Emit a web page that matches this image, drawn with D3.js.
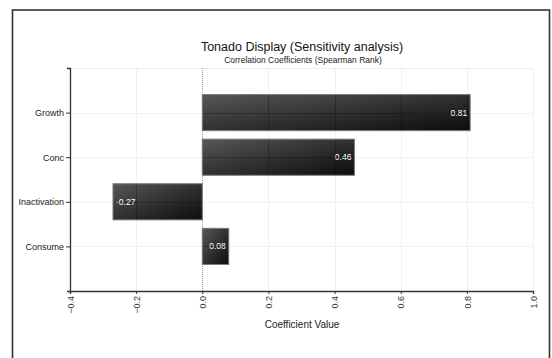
<!DOCTYPE html>
<html>
<head>
<meta charset="utf-8">
<script src="https://cdn.jsdelivr.net/npm/d3@7"></script>
<style>
  html, body { margin: 0; padding: 0; background: #fff; }
  svg { display: block; }
  text { font-family: "Liberation Sans", Arial, sans-serif; }
</style>
</head>
<body>
<svg id="chart" width="552" height="358"></svg>
<script>
const categories = ["Growth", "Conc", "Inactivation", "Consume"];
const values = [0.81, 0.46, -0.27, 0.08];
const valueLabels = ["0.81", "0.46", "-0.27", "0.08"];
const xTicks = [-0.4, -0.2, 0.0, 0.2, 0.4, 0.6, 0.8, 1.0];
const titleText = "Tonado Display (Sensitivity analysis)";
const subtitleText = "Correlation Coefficients (Spearman Rank)";
const xAxisTitle = "Coefficient Value";

const svg = d3.select("#chart");
const plot = { left: 70, right: 533, top: 68, bottom: 291 };

// outer frame
svg.append("rect")
  .attr("x", 12.5).attr("y", 10).attr("width", 537).attr("height", 360)
  .attr("fill", "none").attr("stroke", "#333").attr("stroke-width", 1.6);

const x = d3.scaleLinear().domain([-0.4, 1.0]).range([plot.left, plot.right]);
const y = d3.scaleLinear().domain([0, categories.length + 1]).range([plot.top, plot.bottom]);
const band = y(1) - y(0);
const barH = band * 0.81;

const defs = svg.append("defs");
const grad = defs.append("linearGradient").attr("id", "barGrad")
  .attr("x1", "0").attr("y1", "0").attr("x2", "1").attr("y2", "1");
grad.append("stop").attr("offset", "0%").attr("stop-color", "#575757");
grad.append("stop").attr("offset", "100%").attr("stop-color", "#0c0c0c");

const gridX = xTicks.filter(d => d !== 0 && d !== -0.4);

// light grid (under bars)
const grid = svg.append("g");
grid.selectAll("line.v").data(gridX).join("line")
  .attr("x1", d => Math.round(x(d)) + 0.5).attr("x2", d => Math.round(x(d)) + 0.5)
  .attr("y1", plot.top).attr("y2", plot.bottom)
  .attr("stroke", "#f0f0f0").attr("stroke-width", 1);
grid.selectAll("line.h").data(categories).join("line")
  .attr("x1", plot.left).attr("x2", plot.right)
  .attr("y1", (d, i) => Math.round(y(i + 1)) + 0.5).attr("y2", (d, i) => Math.round(y(i + 1)) + 0.5)
  .attr("stroke", "#f2f2f2").attr("stroke-width", 1);
grid.append("line")
  .attr("x1", plot.left).attr("x2", plot.right)
  .attr("y1", plot.top + 0.5).attr("y2", plot.top + 0.5)
  .attr("stroke", "#eeeeee");
// zero line
grid.append("line")
  .attr("x1", Math.round(x(0)) + 0.5).attr("x2", Math.round(x(0)) + 0.5)
  .attr("y1", plot.top).attr("y2", plot.bottom)
  .attr("stroke", "#9a9a9a").attr("stroke-width", 1).attr("stroke-dasharray", "1,1");

// bars
const bars = svg.append("g");
const barY = (i) => y(i + 1) - barH / 2;
bars.selectAll("rect").data(values).join("rect")
  .attr("x", d => Math.min(x(0), x(d)))
  .attr("width", d => Math.abs(x(d) - x(0)))
  .attr("y", (d, i) => barY(i))
  .attr("height", barH)
  .attr("fill", "url(#barGrad)")
  .attr("stroke", "#7a7a7a").attr("stroke-width", 1);

// clip for grid drawn over bars
const clip = defs.append("clipPath").attr("id", "barClip");
clip.selectAll("rect").data(values).join("rect")
  .attr("x", d => Math.min(x(0), x(d)) + 1)
  .attr("width", d => Math.max(0, Math.abs(x(d) - x(0)) - 2))
  .attr("y", (d, i) => barY(i) + 1)
  .attr("height", barH - 2);

const gridOver = svg.append("g").attr("clip-path", "url(#barClip)");
gridOver.selectAll("line.v").data(gridX).join("line")
  .attr("x1", d => Math.round(x(d)) + 0.5).attr("x2", d => Math.round(x(d)) + 0.5)
  .attr("y1", plot.top).attr("y2", plot.bottom)
  .attr("stroke", "#000").attr("stroke-opacity", 0.25);
gridOver.selectAll("line.h").data(categories).join("line")
  .attr("x1", plot.left).attr("x2", plot.right)
  .attr("y1", (d, i) => Math.round(y(i + 1)) + 0.5).attr("y2", (d, i) => Math.round(y(i + 1)) + 0.5)
  .attr("stroke", "#000").attr("stroke-opacity", 0.25);

// value labels
bars.selectAll("text").data(values).join("text")
  .attr("x", d => d >= 0 ? x(d) - 3 : x(d) + 3)
  .attr("y", (d, i) => y(i + 1))
  .attr("dy", "0.35em")
  .attr("text-anchor", d => d >= 0 ? "end" : "start")
  .attr("fill", "#fff").attr("font-size", 8.5)
  .text((d, i) => valueLabels[i]);

// axes
const xAxis = d3.axisBottom(x).tickValues(xTicks).tickFormat(d3.format(".1f")).tickSize(3).tickSizeOuter(3);
const gx = svg.append("g").attr("transform", `translate(0,${plot.bottom})`).call(xAxis);
gx.select(".domain").attr("stroke", "#333").attr("stroke-width", 1.3);
gx.selectAll(".tick line").attr("stroke", "#333");
gx.selectAll(".tick text")
  .attr("transform", "rotate(-90)")
  .attr("text-anchor", "end")
  .attr("x", -5).attr("y", 0).attr("dy", "0.35em")
  .attr("fill", "#333").attr("font-size", 9)
  .style("font-family", "'Liberation Sans', Arial, sans-serif");

const yAxis = d3.axisLeft(y).tickValues(categories.map((c, i) => i + 1))
  .tickFormat(v => categories[v - 1]).tickSize(4).tickSizeOuter(3);
const gy = svg.append("g").attr("transform", `translate(${plot.left},0)`).call(yAxis);
gy.select(".domain").attr("stroke", "#333").attr("stroke-width", 1.3);
gy.selectAll(".tick line").attr("stroke", "#333");
gy.selectAll(".tick text").attr("fill", "#222").attr("font-size", 9).attr("x", -6)
  .style("font-family", "'Liberation Sans', Arial, sans-serif");

// titles
svg.append("text").attr("x", 302).attr("y", 51).attr("text-anchor", "middle")
  .attr("font-size", 12.5).attr("fill", "#111").text(titleText);
svg.append("text").attr("x", 303).attr("y", 62.5).attr("text-anchor", "middle")
  .attr("font-size", 8.5).attr("fill", "#222").text(subtitleText);
svg.append("text").attr("x", 302).attr("y", 328).attr("text-anchor", "middle")
  .attr("font-size", 10).attr("fill", "#222").text(xAxisTitle);
</script>
</body>
</html>
